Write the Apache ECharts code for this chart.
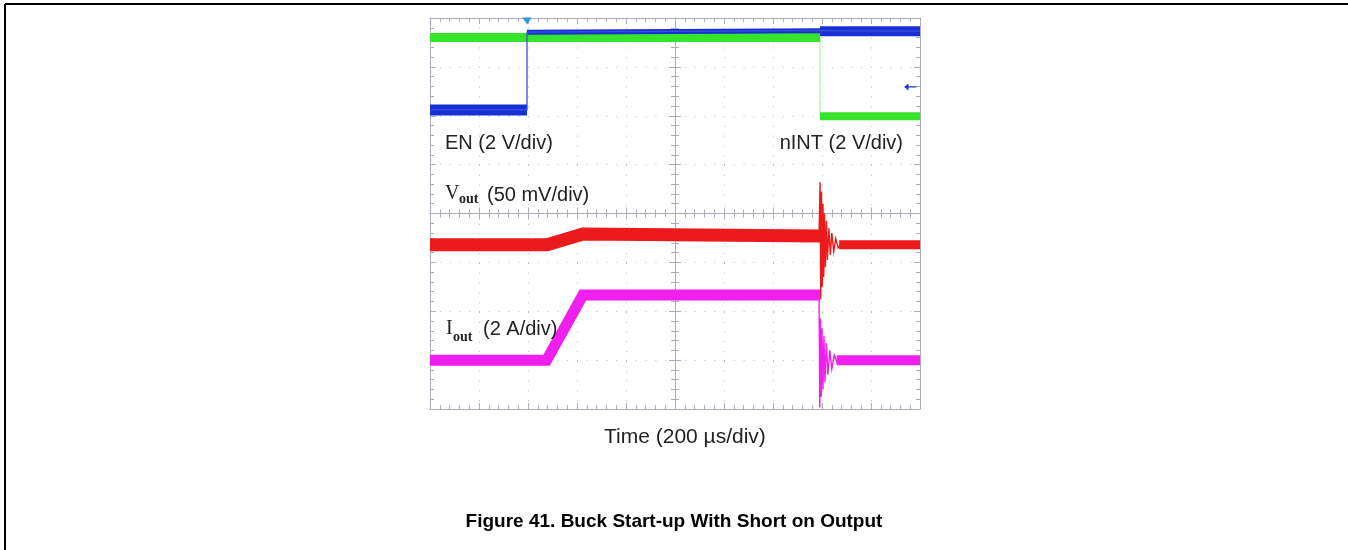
<!DOCTYPE html>
<html>
<head>
    <meta charset="utf-8" />
    <title>Buck Start-up With Short on Output</title>
    <script src="https://cdn.jsdelivr.net/npm/echarts@6/dist/echarts.min.js"></script>
    <style>
        *{
            margin:0;
            padding:0;
        }
        html, body{
            background:#fff;
        }
        #main{
            width:1348px;
            height:550px;
        }
    </style>
</head>
<body>
<div id="main"></div>
<script type="text/javascript">
    // time in divisions from screen centre (200 us/div), level in divisions from centre
    var enLow = [[-5, 2.12], [-3.02, 2.12]];
    var enHighBefore = [[-3.02, 3.71], [2.96, 3.74]];
    var enHighAfter = [[2.96, 3.73], [5, 3.73]];
    var enTrace = [[-5, 2.12], [-3.02, 2.12], [-3.02, 3.71], [2.96, 3.74], [5, 3.73]];

    var nintHigh = [[-5, 3.6], [2.96, 3.6]];
    var nintLow = [[2.96, 1.99], [5, 1.99]];
    var nintTrace = [[-5, 3.6], [2.96, 3.6], [2.96, 1.99], [5, 1.99]];

    var voutBefore = [[-5, -0.64], [-2.61, -0.64], [-1.88, -0.42], [2.96, -0.46]];
    var voutRinging = [[2.94, -0.46], [2.96, 0.64], [2.975, -1.75], [2.99, 0.45], [3.005, -1.5], [3.02, 0.2],
        [3.035, -1.3], [3.05, 0.0], [3.07, -1.1], [3.09, -0.15], [3.11, -0.95], [3.14, -0.3], [3.17, -0.85],
        [3.2, -0.4], [3.24, -0.78], [3.28, -0.52], [3.33, -0.7], [3.4, -0.62], [3.5, -0.64]];
    var voutAfter = [[3.35, -0.64], [5, -0.64]];

    var ioutBefore = [[-5, -3.0], [-2.62, -3.0], [-1.88, -1.67], [2.96, -1.67]];
    var ioutRinging = [[2.94, -1.67], [2.955, -3.97], [2.97, -2.15], [2.985, -3.75], [3.0, -2.35], [3.02, -3.6],
        [3.04, -2.5], [3.06, -3.45], [3.09, -2.65], [3.12, -3.3], [3.16, -2.8], [3.2, -3.18], [3.25, -2.9],
        [3.31, -3.06], [3.4, -3.0]];
    var ioutAfter = [[3.3, -3.0], [5, -3.0]];

    var triggerPoint = [-3.02, 4];
    var enRefMarker = [4.8, 2.59];

    var gridColor = '#a9aec2';

    function xAx(pos, onZero, split) {
        return {
            type: 'value', min: -5, max: 5, interval: 1, position: pos,
            axisLine: {show: true, onZero: onZero, onZeroAxisIndex: 0, lineStyle: {color: gridColor, width: 1}},
            axisTick: {show: true, inside: true, length: 6, lineStyle: {color: gridColor}},
            minorTick: {show: true, splitNumber: 5, length: 4, lineStyle: {color: gridColor}},
            axisLabel: {show: false},
            splitLine: {show: split, lineStyle: {color: '#b9bdcd', type: [1, 8.8], width: 1}}
        };
    }
    function yAx(pos, onZero, split) {
        return {
            type: 'value', min: -4, max: 4, interval: 1, position: pos,
            axisLine: {show: true, onZero: onZero, onZeroAxisIndex: 0, lineStyle: {color: gridColor, width: 1}},
            axisTick: {show: true, inside: true, length: 6, lineStyle: {color: gridColor}},
            minorTick: {show: true, splitNumber: 5, length: 4, lineStyle: {color: gridColor}},
            axisLabel: {show: false},
            splitLine: {show: split, lineStyle: {color: '#b9bdcd', type: [1, 8.8], width: 1}}
        };
    }

    function line(name, data, color, width, z) {
        return {
            name: name, type: 'line', data: data, symbol: 'none', z: z,
            xAxisIndex: 0, yAxisIndex: 0,
            lineStyle: {color: color, width: width, cap: 'butt', join: 'miter'},
            silent: true
        };
    }

    var blue = '#1630d4', green = '#36e42c', red = '#ec1a1a', magenta = '#f01ff0';

    var enSeries = line('EN', enTrace, '#3b4fe0', 1.3, 6);
    enSeries.markPoint = {
        silent: true,
        data: [
            {coord: triggerPoint, symbol: 'triangle', symbolRotate: 180, symbolSize: [9, 7], symbolOffset: [0, 3], itemStyle: {color: '#2a9bd8'}},
            {coord: enRefMarker, symbol: 'path://M0,5 L5,0 L5,4 L14,4 L14,6 L5,6 L5,10 Z', symbolSize: [12, 7], itemStyle: {color: blue}}
        ],
        label: {show: false}
    };

    var myChart = echarts.init(document.getElementById('main'));
    var option = {
        animation: false,
        grid: {left: 430, top: 18, width: 490, height: 391},
        xAxis: [xAx('bottom', false, true), xAx('top', false, false), xAx('bottom', true, false), xAx('top', true, false)],
        yAxis: [yAx('left', false, true), yAx('right', false, false), yAx('left', true, false), yAx('right', true, false)],
        series: [
            line('nINT', nintTrace, '#9cf094', 1, 2),
            line('nINT high', nintHigh, green, 9, 3),
            line('nINT low', nintLow, green, 8, 3),
            enSeries,
            line('EN low', enLow, blue, 11, 5),
            line('EN high', enHighBefore, blue, 5, 5),
            line('EN high 2', enHighAfter, blue, 10, 5),
            line('Iout', ioutBefore, magenta, 11, 7),
            line('Iout ring', ioutRinging, magenta, 1.4, 7),
            line('Iout after', ioutAfter, magenta, 10, 7),
            line('Vout', voutBefore, red, 13, 8),
            line('Vout ring', voutRinging, red, 1.4, 8),
            line('Vout after', voutAfter, red, 9, 8)
        ],
        graphic: [
            {type: 'line', shape: {x1: 5, y1: 4, x2: 1348, y2: 4}, style: {stroke: '#000', lineWidth: 2}},
            {type: 'line', shape: {x1: 5, y1: 4, x2: 5, y2: 550}, style: {stroke: '#000', lineWidth: 2}},
            {type: 'text', left: 445, top: 133, z: 20, style: {text: 'EN (2 V/div)', font: '20px "Liberation Sans"', fill: '#222'}},
            {type: 'text', right: 445, top: 133, z: 20, style: {text: 'nINT (2 V/div)', font: '20px "Liberation Sans"', fill: '#222'}},
            {type: 'text', left: 445, top: 184, z: 20, style: {text: 'V', font: '20px "Liberation Serif"', fill: '#222'}},
            {type: 'text', left: 459, top: 192, z: 20, style: {text: 'out', font: 'bold 14px "Liberation Serif"', fill: '#222'}},
            {type: 'text', left: 487, top: 185, z: 20, style: {text: '(50 mV/div)', font: '20px "Liberation Sans"', fill: '#222'}},
            {type: 'text', left: 446, top: 319, z: 20, style: {text: 'I', font: '20px "Liberation Serif"', fill: '#222'}},
            {type: 'text', left: 453, top: 330, z: 20, style: {text: 'out', font: 'bold 14px "Liberation Serif"', fill: '#222'}},
            {type: 'text', left: 483, top: 319, z: 20, style: {text: '(2 A/div)', font: '20px "Liberation Sans"', fill: '#222'}},
            {type: 'text', left: 604, top: 427, z: 20, style: {text: 'Time (200 \u00b5s/div)', font: '21px "Liberation Sans"', fill: '#222'}},
            {type: 'text', left: 'center', top: 512, z: 20, style: {text: 'Figure 41. Buck Start-up With Short on Output', font: 'bold 19px "Liberation Sans"', fill: '#000'}}
        ]
    };
    myChart.setOption(option);
    window.onresize = myChart.resize;
</script>
</body>
</html>
